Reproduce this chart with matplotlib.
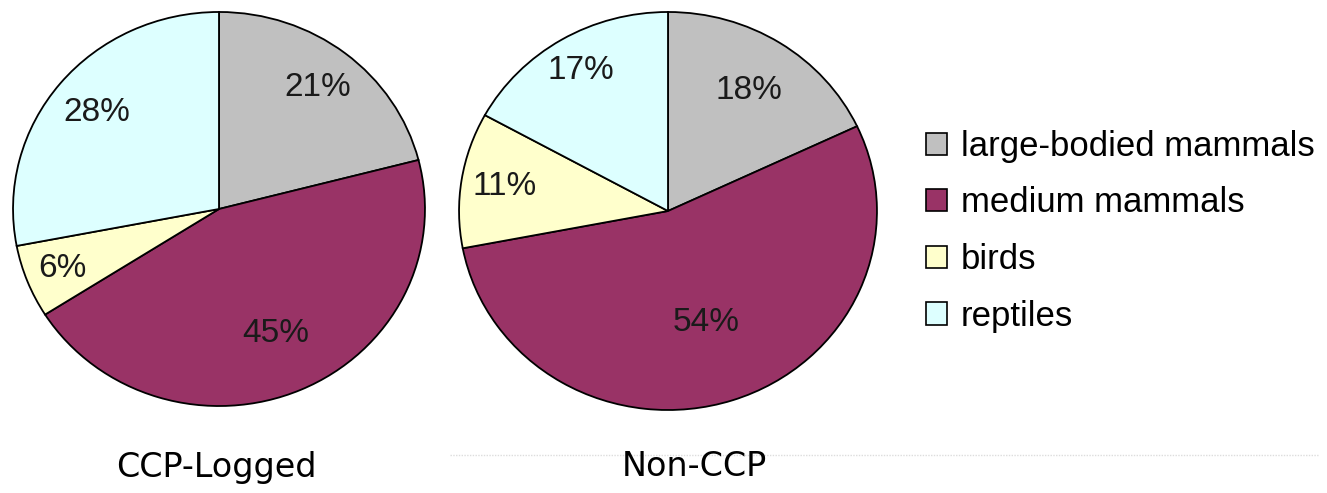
import numpy as np
import matplotlib.pyplot as plt
from matplotlib.patches import Patch
from matplotlib.lines import Line2D

groups = ['large-bodied mammals', 'medium mammals', 'birds', 'reptiles']
logged = [21, 45, 6, 28]
non_ccp = [18, 54, 11, 17]
titles = ['CCP-Logged', 'Non-CCP']
colors = ['#c0c0c0', '#993366', '#ffffcc', '#ddffff']

# label distance (fraction of radius) for each wedge
dist_logged = [0.78, 0.69, 0.82, 0.77]
dist_non = [0.72, 0.59, 0.79, 0.82]

plt.rcParams['font.family'] = ['Liberation Sans', 'DejaVu Sans']

W, H = 1327, 493
fig = plt.figure(figsize=(W / 100, H / 100), dpi=100)


def pie_axes(cx, cy, rx, ry):
    return fig.add_axes([(cx - rx) / W, (H - cy - ry) / H, 2 * rx / W, 2 * ry / H])


def draw(ax, vals, dists):
    wedges, _ = ax.pie(vals, colors=colors, startangle=90, counterclock=False,
                       wedgeprops=dict(edgecolor='black', linewidth=1.3))
    for w, v, d in zip(wedges, vals, dists):
        a = np.deg2rad((w.theta1 + w.theta2) / 2)
        ax.text(d * np.cos(a), d * np.sin(a), f'{v}%', ha='center', va='center',
                fontsize=24, color='#1a1a1a')
    ax.set_aspect('auto')
    ax.set_xlim(-1.005, 1.005)
    ax.set_ylim(-1.005, 1.005)
    ax.axis('off')


ax1 = pie_axes(219, 209, 207, 198)
draw(ax1, logged, dist_logged)
ax2 = pie_axes(668, 211, 210, 200)
draw(ax2, non_ccp, dist_non)

fig.text(216 / W, 1 - 467 / H, titles[0], ha='center', va='center', fontsize=24,
         family='DejaVu Sans')
fig.text(694 / W, 1 - 467 / H, titles[1], ha='center', va='center', fontsize=24,
         family='DejaVu Sans')

fig.add_artist(Line2D([450 / W, 1318 / W], [1 - 455 / H, 1 - 455 / H],
                      color='#dddddd', linestyle=(0, (1, 1)), linewidth=1))

handles = [Patch(facecolor=c, edgecolor='black', linewidth=1.2) for c in colors]
fig.legend(handles, groups, loc='upper left', bbox_to_anchor=(912 / W, 1 - 116 / H),
           frameon=False, fontsize=25, handlelength=0.6, handleheight=0.6,
           handletextpad=0.4, labelspacing=0.68, borderaxespad=0)

fig.savefig('out.png', dpi=100)
